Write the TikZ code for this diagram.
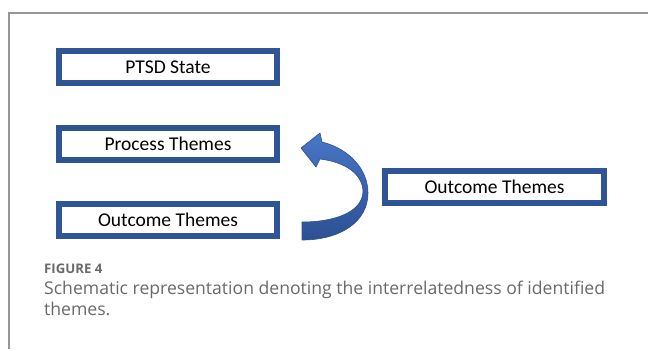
\documentclass[tikz,border=0pt]{standalone}
\usepackage{fontspec}
\setmainfont{Carlito}
\newfontfamily\capfont{Open Sans}
\definecolor{boxblue}{RGB}{47,85,151}
\definecolor{lightblue}{RGB}{72,118,200}
\definecolor{darkblue}{RGB}{44,80,146}
\definecolor{framegray}{RGB}{150,150,150}
\definecolor{capgray}{RGB}{105,105,105}
\begin{document}
\begin{tikzpicture}[x=1pt,y=-1pt,
  themebox/.style={draw=boxblue,line width=6pt,fill=white,minimum height=32pt,inner sep=0pt,
    font=\fontsize{19.5}{23}\selectfont,text=black},
  captext/.style={anchor=base west,inner sep=0pt,text=capgray,font=\capfont\fontsize{17.6}{21}\selectfont}]
\useasboundingbox (0,0) rectangle (648,349);
% frame
\draw[framegray,line width=1.3pt] (9,349) -- (9,13) -- (648,13);
% boxes
\node[themebox,minimum width=218pt] (ptsd) at (168,67) {PTSD State};
\node[themebox,minimum width=218pt] (proc) at (168,143.5) {Process Themes};
\node[themebox,minimum width=218pt] (outl) at (168,219.5) {Outcome Themes};
\node[themebox,minimum width=219pt] (outr) at (494.5,186.5) {Outcome Themes};
% curved block arrow
\coordinate (tip) at (301,148);
\coordinate (hu) at (320,133);
\coordinate (hl) at (316,167);
\coordinate (st) at (322,142);
\coordinate (sb) at (320,159);
\coordinate (eo) at (302,240);
\coordinate (ei) at (302,222);
\path[top color=lightblue,bottom color=darkblue,draw=darkblue,line width=0.6pt,line join=round]
  (tip) -- (hu) -- (st)
  .. controls (350,149) and (368,170) .. (368,193)
  .. controls (368,222) and (340,240) .. (eo)
  -- (ei)
  .. controls (335,222) and (362,212) .. (363,192)
  .. controls (363,174) and (345,162) .. (sb)
  -- (hl) -- cycle;
% caption
\node[captext,font=\capfont\bfseries\fontsize{13.2}{16}\selectfont] (fig) at (44,273) {FIGURE 4};
\node[captext] (cap1) at (44,294) {Schematic representation denoting the interrelatedness of identified};
\node[captext] (cap2) at (44,315) {themes.};
\end{tikzpicture}
\end{document}
